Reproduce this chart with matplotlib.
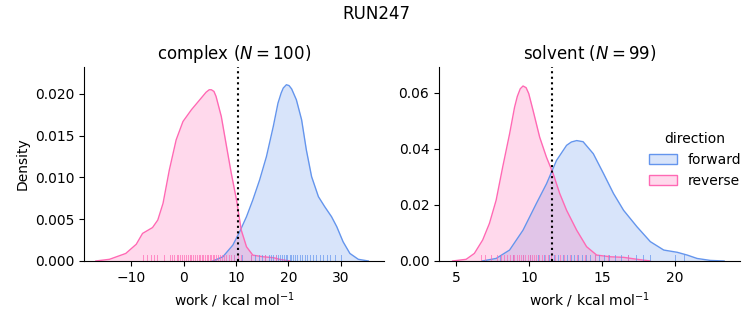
import numpy as np
import matplotlib
matplotlib.use("Agg")
import matplotlib.pyplot as plt
from matplotlib.patches import Patch

# density curves (x = work, y = density)
cx_rev = [-16.7, -14.1, -11.0, -9.0, -7.8, -5.9, -4.9, -3.9, -2.7, -1.4, -0.1, 1.5, 3.1, 4.3, 4.9,
          5.3, 5.8, 6.2, 7.2, 8.2, 9.1, 10.1, 11.0, 12.0, 13.2, 15.2, 17.1, 18.3, 20.3]
cy_rev = [0.0, 0.0002, 0.0009, 0.002, 0.0033, 0.004, 0.0049, 0.0069, 0.0109, 0.0145, 0.0167, 0.0181,
          0.0193, 0.0202, 0.0205, 0.0205, 0.0203, 0.0197, 0.0173, 0.0137, 0.0105, 0.0073, 0.0037,
          0.0017, 0.0007, 0.0005, 0.0004, 0.0002, 0.0]
cx_fwd = [5.6, 7.5, 9.4, 10.7, 12.0, 13.2, 14.5, 15.8, 17.1, 18.0, 18.6, 19.0, 19.6, 20.1, 20.6,
          21.5, 22.5, 23.4, 24.4, 25.7, 26.9, 28.2, 29.2, 30.4, 31.7, 33.3, 35.2]
cy_fwd = [0.0, 0.0005, 0.0019, 0.0035, 0.0053, 0.0073, 0.0097, 0.0125, 0.0161, 0.0189, 0.0201,
          0.0207, 0.0211, 0.021, 0.0206, 0.0193, 0.0169, 0.0133, 0.0101, 0.0077, 0.0065, 0.0053,
          0.0041, 0.0023, 0.0009, 0.0002, 0.0]

sx_rev = [4.77, 5.7, 6.26, 6.83, 7.29, 7.75, 8.2, 8.67, 9.01, 9.2, 9.4, 9.59, 9.8, 9.98, 10.28,
          10.73, 11.19, 11.65, 12.1, 12.57, 13.26, 13.94, 14.63, 15.55, 16.47, 17.39, 18.3]
sy_rev = [0.0, 0.0006, 0.0027, 0.0075, 0.0134, 0.0217, 0.0336, 0.0454, 0.0549, 0.0588, 0.0615,
          0.0625, 0.0619, 0.0598, 0.0537, 0.0442, 0.0371, 0.0312, 0.0241, 0.0181, 0.011, 0.0051,
          0.0021, 0.0015, 0.0013, 0.0006, 0.0]
sx_fwd = [6.8, 7.75, 8.67, 9.59, 10.5, 11.2, 11.88, 12.57, 12.9, 13.26, 13.7, 14.4, 15.1, 15.78,
          16.47, 17.39, 18.3, 19.22, 20.14, 20.83, 21.5, 22.4, 23.35]
sy_fwd = [0.0, 0.0009, 0.0039, 0.011, 0.0205, 0.0276, 0.0359, 0.0413, 0.0425, 0.043, 0.0426,
          0.0383, 0.0312, 0.0241, 0.0181, 0.0122, 0.0069, 0.0039, 0.0031, 0.0021, 0.0009, 0.0002, 0.0]

# individual work values (rug), approximate
rug_c_rev = [-7.7, -7.0, -6.1, -5.7, -5.1, -3.8, -2.5, -2.1, -1.8, -1.3, -1.0, -0.6, -0.2, 0.1,
             0.5, 0.8, 1.2, 1.5, 1.9, 2.2, 2.6, 2.9, 3.2, 3.5, 3.8, 4.1, 4.4, 4.7, 5.0, 5.3, 5.6,
             5.9, 6.2, 6.5, 6.9, 7.3, 7.7, 8.1, 8.6, 9.1, 9.7, 10.3, 11.0, 12.8, 15.5, 17.6]
rug_c_fwd = [9.6, 11.2, 12.8, 13.6, 14.3, 15.0, 15.6, 16.2, 16.7, 17.1, 17.6, 18.0, 18.4, 18.8,
             19.2, 19.5, 19.8, 20.2, 20.5, 20.9, 21.3, 21.7, 22.1, 22.6, 23.1, 23.6, 24.1, 24.7,
             25.3, 26.0, 26.6, 27.3, 28.0, 28.9, 30.0]
rug_s_rev = [6.7, 7.0, 7.4, 7.8, 8.1, 8.3, 8.5, 8.7, 8.9, 9.0, 9.15, 9.3, 9.45, 9.6, 9.75,
             9.9, 10.05, 10.2, 10.35, 10.5, 10.7, 10.9, 11.1, 11.3, 11.5, 11.8, 12.1, 12.4,
             12.8, 13.3, 13.8, 14.5, 15.4, 16.8]
rug_s_fwd = [8.0, 8.9, 9.6, 10.1, 10.6, 11.0, 11.4, 11.7, 12.0, 12.3, 12.6, 12.85, 13.1, 13.35,
             13.6, 13.9, 14.2, 14.5, 14.8, 15.1, 15.5, 15.9, 16.3, 16.8, 17.3, 17.8, 18.3,
             20.0, 20.6]

dg_complex = 10.4
dg_solvent = 11.6

c_fwd = "cornflowerblue"
c_rev = "hotpink"

fig = plt.figure(figsize=(7.53, 3.25), dpi=100)
ax1 = fig.add_axes([0.1116, 0.197, 0.3984, 0.597])
ax2 = fig.add_axes([0.583, 0.197, 0.4, 0.597])


def draw(ax, xf, yf, xr, yr, rf, rr, dg):
    for x, y, c in [(xf, yf, c_fwd), (xr, yr, c_rev)]:
        ax.fill_between(x, y, color=c, alpha=0.25, lw=0)
        ax.plot(x, y, color=c, lw=1)
    ytr = ax.get_xaxis_transform()
    for vals, c in [(rf, c_fwd), (rr, c_rev)]:
        for v in vals:
            ax.plot([v, v], [0, 0.03], color=c, lw=0.7, alpha=0.7, transform=ytr)
    ax.axvline(dg, color="k", ls=":", lw=1.5)
    ax.spines["top"].set_visible(False)
    ax.spines["right"].set_visible(False)
    ax.set_xlabel(r"work / kcal mol$^{-1}$")


draw(ax1, cx_fwd, cy_fwd, cx_rev, cy_rev, rug_c_fwd, rug_c_rev, dg_complex)
ax1.set_xlim(-18.95, 38.2)
ax1.set_ylim(0, 0.02323)
ax1.set_yticks([0, 0.005, 0.01, 0.015, 0.02])
ax1.set_ylabel("Density")
ax1.set_title(r"complex ($N = 100$)")

draw(ax2, sx_fwd, sy_fwd, sx_rev, sy_rev, rug_s_fwd, rug_s_rev, dg_solvent)
ax2.set_xlim(3.84, 24.45)
ax2.set_ylim(0, 0.0693)
ax2.set_yticks([0, 0.02, 0.04, 0.06])
ax2.set_title(r"solvent ($N = 99$)")

handles = [Patch(facecolor=matplotlib.colors.to_rgba(c, 0.25), edgecolor=c, label=l)
           for c, l in [(c_fwd, "forward"), (c_rev, "reverse")]]
ax2.legend(handles=handles, title="direction", frameon=False, loc="center left",
           bbox_to_anchor=(0.678, 0.52), borderaxespad=0)

fig.suptitle("RUN247", y=0.985)
fig.savefig("out.png")
